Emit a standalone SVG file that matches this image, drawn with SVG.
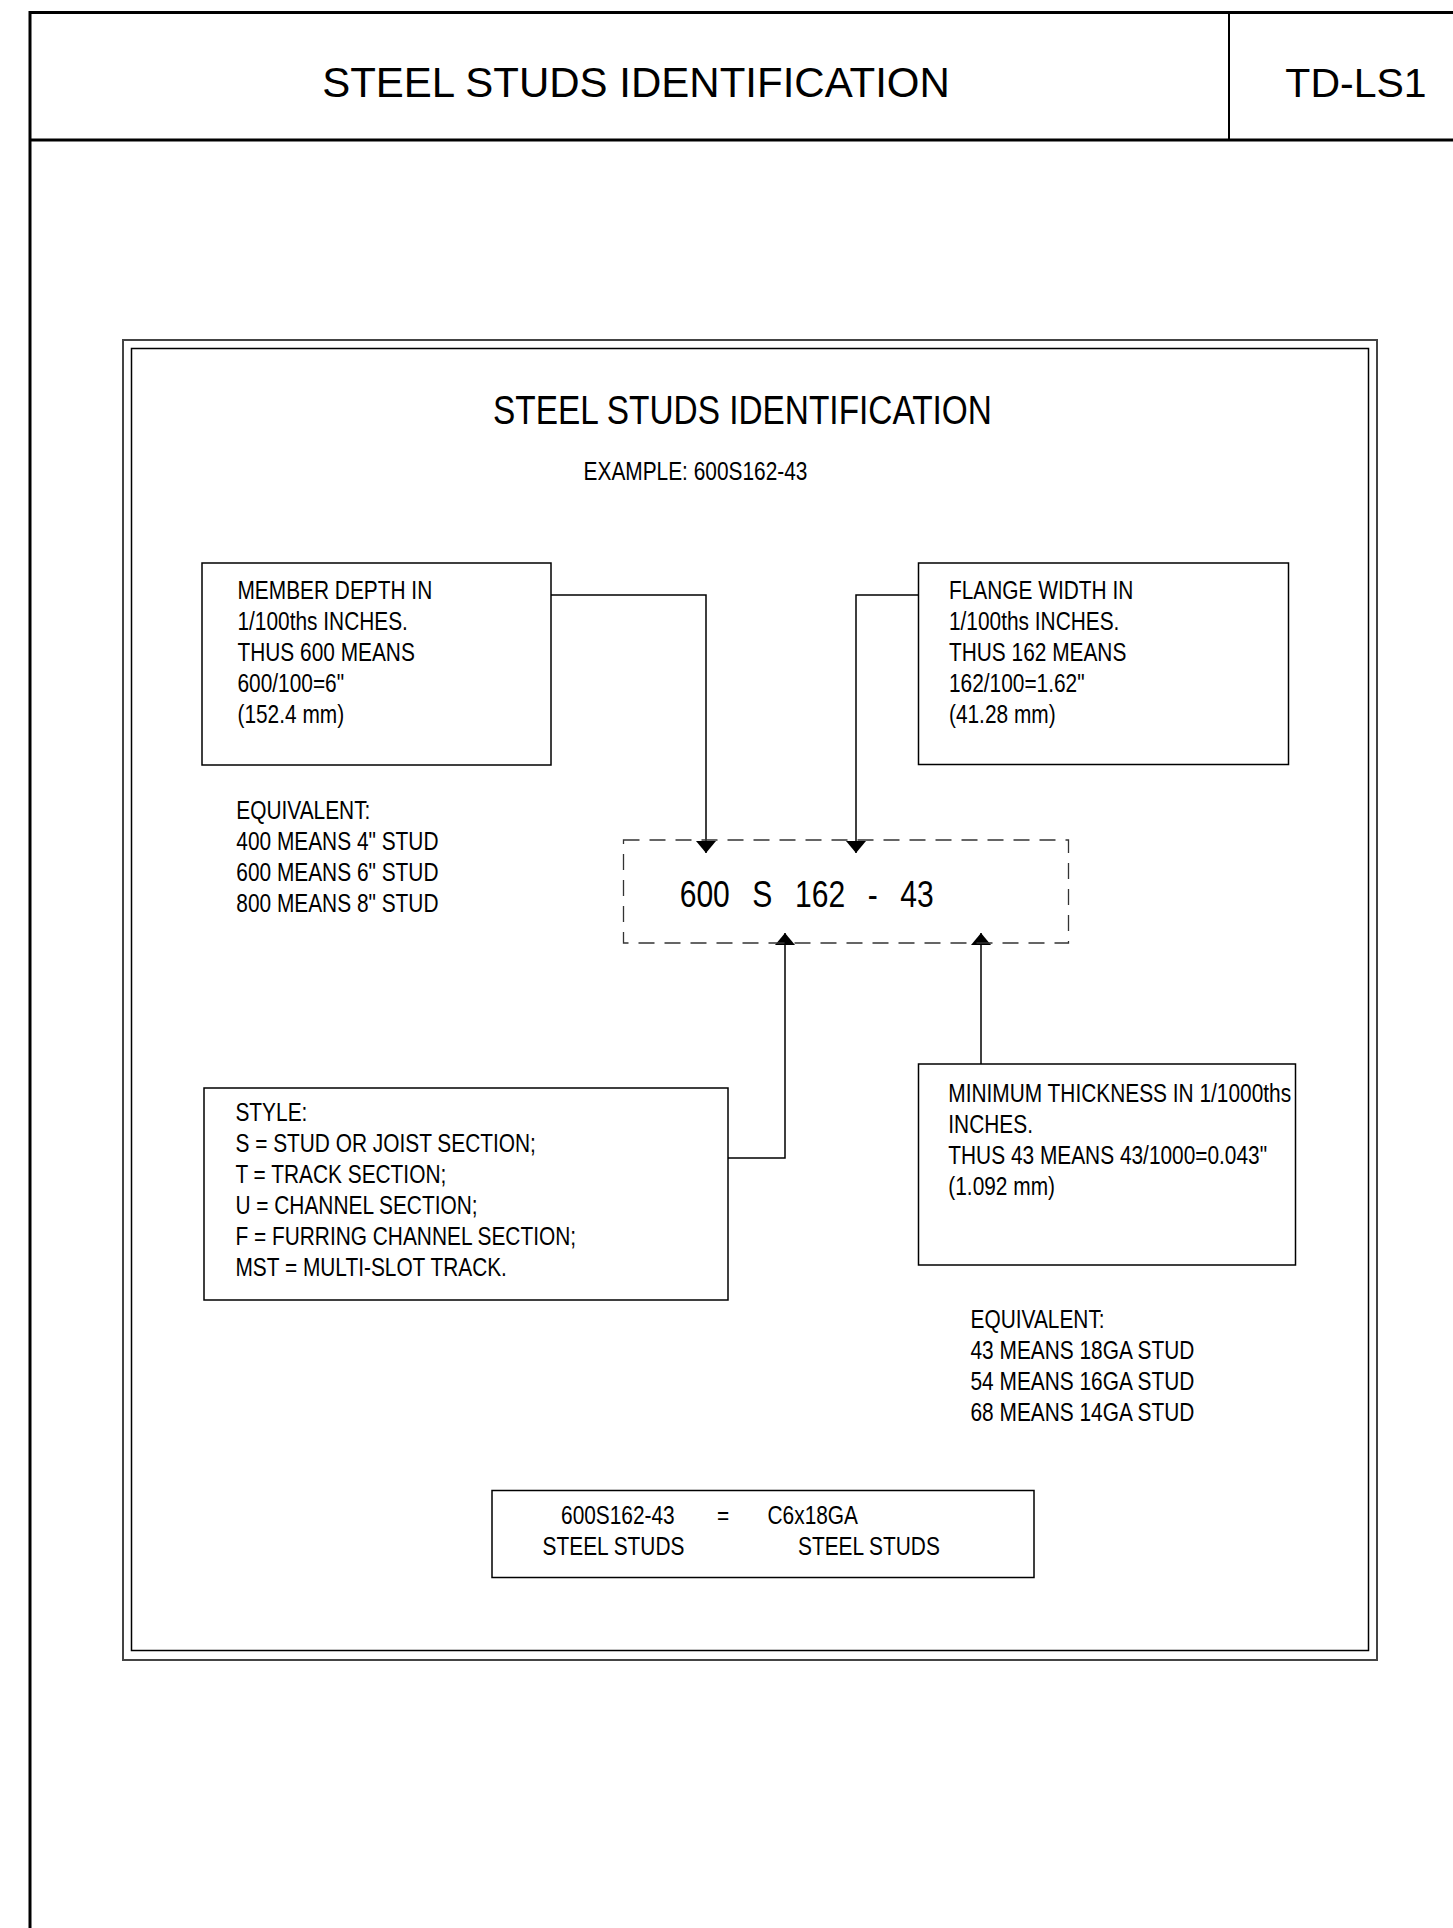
<svg xmlns="http://www.w3.org/2000/svg" width="1453" height="1928" viewBox="0 0 1453 1928">
<style>
text{font-family:"Liberation Sans",Arial,Helvetica,sans-serif;fill:#000}
.hd{font-size:42px;text-anchor:middle}
.b{font-size:25px}
.box{fill:none;stroke:#000;stroke-width:1.5}
.cn{fill:none;stroke:#000;stroke-width:1.5}
.frm{fill:none;stroke:#000;stroke-width:3}
</style>
<defs>
<marker id="ah" viewBox="0 0 12 20" refX="12" refY="10" markerWidth="12" markerHeight="20" markerUnits="userSpaceOnUse" orient="auto">
<path d="M0,0 L12,10 L0,20 Z" fill="#000"/>
</marker>
</defs>
<rect width="1453" height="1928" fill="#fff"/>
<g id="sheet-frame">
<path class="frm" d="M30,1928 V12.5 H1453"/>
<path class="frm" d="M30,140 H1453"/>
<path fill="none" stroke="#000" stroke-width="2" d="M1229,12.5 V140"/>
<text class="hd" x="636" y="97">STEEL STUDS IDENTIFICATION</text>
<text class="hd" x="1356" y="97" style="font-size:41px">TD-LS1</text>
</g>
<g id="detail-frame">
<rect x="123" y="340" width="1254" height="1320" fill="none" stroke="#444" stroke-width="2"/>
<rect x="131.5" y="348.5" width="1237" height="1302" fill="none" stroke="#000" stroke-width="1.5"/>
<g transform="scale(0.835 1)">
<text x="889.2" y="424" style="font-size:40px;text-anchor:middle">STEEL STUDS IDENTIFICATION</text>
<text class="b" x="832.9" y="480" style="text-anchor:middle">EXAMPLE: 600S162-43</text>
</g>
</g>
<g id="connectors">
<path class="cn" d="M551,595 H706 V853" marker-end="url(#ah)"/>
<path class="cn" d="M918.5,595 H856 V853" marker-end="url(#ah)"/>
<path class="cn" d="M728,1158 H785 V933" marker-end="url(#ah)"/>
<path class="cn" d="M981,1064 V933" marker-end="url(#ah)"/>
</g>
<g id="member-depth">
<rect class="box" x="202" y="563" width="349" height="202"/>
<g transform="scale(0.835 1)">
<text class="b" x="284.4" y="599">MEMBER DEPTH IN</text>
<text class="b" x="284.4" y="630">1/100ths INCHES.</text>
<text class="b" x="284.4" y="661">THUS 600 MEANS</text>
<text class="b" x="284.4" y="692">600/100=6"</text>
<text class="b" x="284.4" y="723">(152.4 mm)</text>
</g>
</g>
<g id="depth-equivalent">
<g transform="scale(0.835 1)">
<text class="b" x="283" y="819">EQUIVALENT:</text>
<text class="b" x="283" y="850">400 MEANS 4" STUD</text>
<text class="b" x="283" y="881">600 MEANS 6" STUD</text>
<text class="b" x="283" y="912">800 MEANS 8" STUD</text>
</g>
</g>
<g id="flange-width">
<rect class="box" x="918.5" y="563" width="370" height="201.5"/>
<g transform="scale(0.835 1)">
<text class="b" x="1136.5" y="599">FLANGE WIDTH IN</text>
<text class="b" x="1136.5" y="630">1/100ths INCHES.</text>
<text class="b" x="1136.5" y="661">THUS 162 MEANS</text>
<text class="b" x="1136.5" y="692">162/100=1.62"</text>
<text class="b" x="1136.5" y="723">(41.28 mm)</text>
</g>
</g>
<g id="designation">
<rect x="623.5" y="840" width="445" height="103" fill="none" stroke="#333" stroke-width="1.3" stroke-dasharray="16 10"/>
<g transform="scale(0.835 1)">
<text x="814" y="906.7" style="font-size:36px;word-spacing:17px">600 S 162 - 43</text>
</g>
</g>
<g id="style">
<rect class="box" x="204" y="1088" width="524" height="212"/>
<g transform="scale(0.835 1)">
<text class="b" x="282" y="1121">STYLE:</text>
<text class="b" x="282" y="1152">S = STUD OR JOIST SECTION;</text>
<text class="b" x="282" y="1183">T = TRACK SECTION;</text>
<text class="b" x="282" y="1214">U = CHANNEL SECTION;</text>
<text class="b" x="282" y="1245">F = FURRING CHANNEL SECTION;</text>
<text class="b" x="282" y="1276">MST = MULTI-SLOT TRACK.</text>
</g>
</g>
<g id="thickness">
<rect class="box" x="918.5" y="1064" width="377" height="201"/>
<g transform="scale(0.835 1)">
<text class="b" x="1135.7" y="1102">MINIMUM THICKNESS IN 1/1000ths</text>
<text class="b" x="1135.7" y="1133">INCHES.</text>
<text class="b" x="1135.7" y="1164">THUS 43 MEANS 43/1000=0.043"</text>
<text class="b" x="1135.7" y="1195">(1.092 mm)</text>
</g>
</g>
<g id="thickness-equivalent">
<g transform="scale(0.835 1)">
<text class="b" x="1162.3" y="1328">EQUIVALENT:</text>
<text class="b" x="1162.3" y="1359">43 MEANS 18GA STUD</text>
<text class="b" x="1162.3" y="1390">54 MEANS 16GA STUD</text>
<text class="b" x="1162.3" y="1421">68 MEANS 14GA STUD</text>
</g>
</g>
<g id="equivalence">
<rect class="box" x="492" y="1490.5" width="542" height="87"/>
<g transform="scale(0.835 1)">
<text class="b" x="671.9" y="1524">600S162-43</text>
<text class="b" x="858.7" y="1524">=</text>
<text class="b" x="919.2" y="1524">C6x18GA</text>
<text class="b" x="649.8" y="1555">STEEL STUDS</text>
<text class="b" x="955.7" y="1555">STEEL STUDS</text>
</g>
</g>
</svg>
